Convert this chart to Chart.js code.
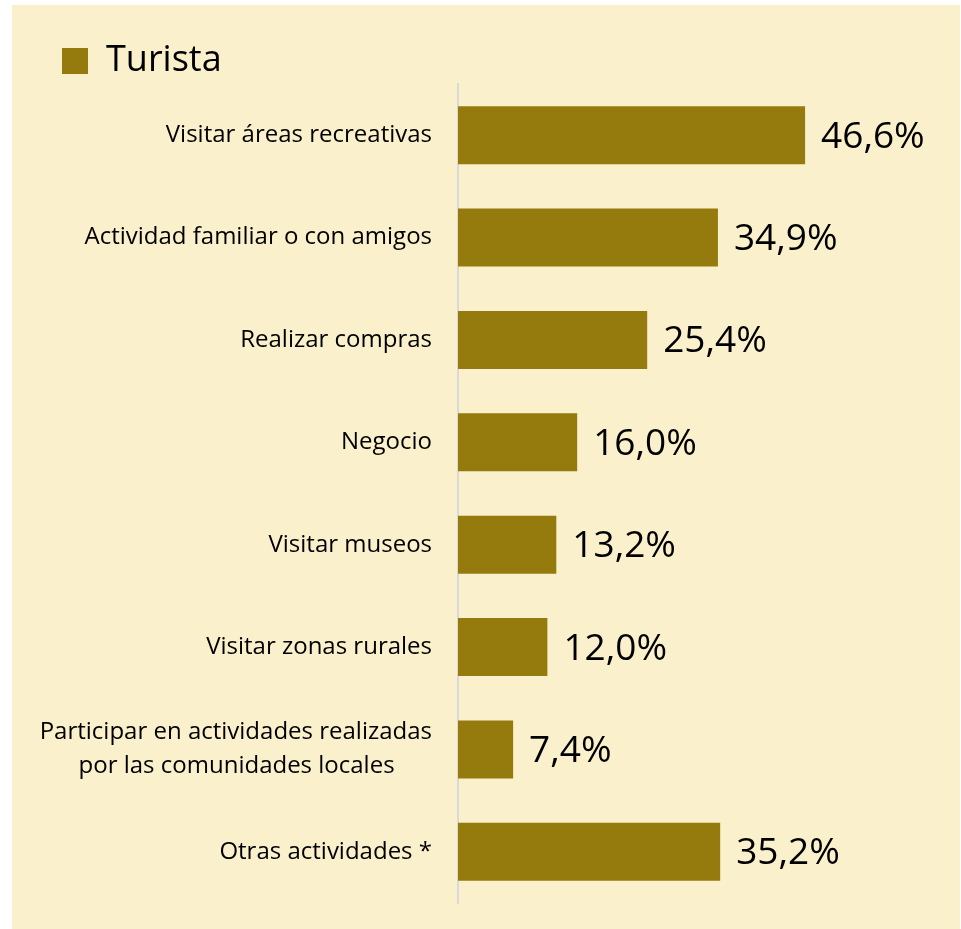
<!DOCTYPE html>
<html>
<head>
<meta charset="utf-8">
<script src="https://cdn.jsdelivr.net/npm/chart.js@4.4.0/dist/chart.umd.min.js"></script>
<style>
  html, body { margin: 0; padding: 0; background: #ffffff; }
  #panel {
    position: absolute; left: 12px; top: 5px;
    width: 948px; height: 924px;
    background: #FAF0CB;
  }
</style>
</head>
<body>
<div id="panel"><canvas id="chart"></canvas></div>
<script>
// Data
const categories = [
    'Visitar áreas recreativas',
    'Actividad familiar o con amigos',
    'Realizar compras',
    'Negocio',
    'Visitar museos',
    'Visitar zonas rurales',
    ['Participar en actividades realizadas', 'por las comunidades locales      '],
    'Otras actividades *'
];
const seriesName = 'Turista';
const turistaValues = [46.6, 34.9, 25.4, 16.0, 13.2, 12.0, 7.4, 35.2];

const BAR_COLOR = '#957A0E';
const FONT = '"Open Sans", Lato, sans-serif';

// Draws the "46,6%" labels at the end of each bar
const valueLabels = {
    id: 'valueLabels',
    afterDatasetsDraw(chart) {
        const ctx = chart.ctx;
        const meta = chart.getDatasetMeta(0);
        ctx.save();
        ctx.font = '37px ' + FONT;
        ctx.fillStyle = '#000';
        ctx.textAlign = 'left';
        ctx.textBaseline = 'middle';
        meta.data.forEach((bar, i) => {
            const txt = turistaValues[i].toFixed(1).replace('.', ',') + '%';
            ctx.fillText(txt, bar.x + 16, bar.y + 2);
        });
        ctx.restore();
    }
};

const ctx = document.getElementById('chart').getContext('2d');
new Chart(ctx, {
    type: 'bar',
    data: {
        labels: categories,
        datasets: [{
            label: seriesName,
            data: turistaValues,
            backgroundColor: BAR_COLOR,
            borderWidth: 0,
            categoryPercentage: 0.567,
            barPercentage: 1.0
        }]
    },
    options: {
        indexAxis: 'y',
        responsive: true,
        maintainAspectRatio: false,
        animation: false,
        layout: {
            padding: { left: 20, top: 8, right: 0, bottom: 26 }
        },
        scales: {
            x: {
                display: false,
                min: 0,
                max: 67.4
            },
            y: {
                afterFit(scale) {
                    scale.width = 426;
                    scale.paddingTop = 0;
                    scale.paddingBottom = 0;
                },
                grid: { display: false, drawTicks: false },
                border: { display: true, color: '#D9D9D9', width: 2 },
                ticks: {
                    padding: 26,
                    color: '#000',
                    font: { family: FONT, size: 24, lineHeight: 1.4 }
                }
            }
        },
        plugins: {
            legend: {
                position: 'top',
                align: 'start',
                maxHeight: 71,
                labels: {
                    boxWidth: 26,
                    boxHeight: 26,
                    padding: 30,
                    color: '#000',
                    font: { family: FONT, size: 36 }
                }
            },
            tooltip: { enabled: false }
        }
    },
    plugins: [valueLabels]
});
</script>
</body>
</html>
